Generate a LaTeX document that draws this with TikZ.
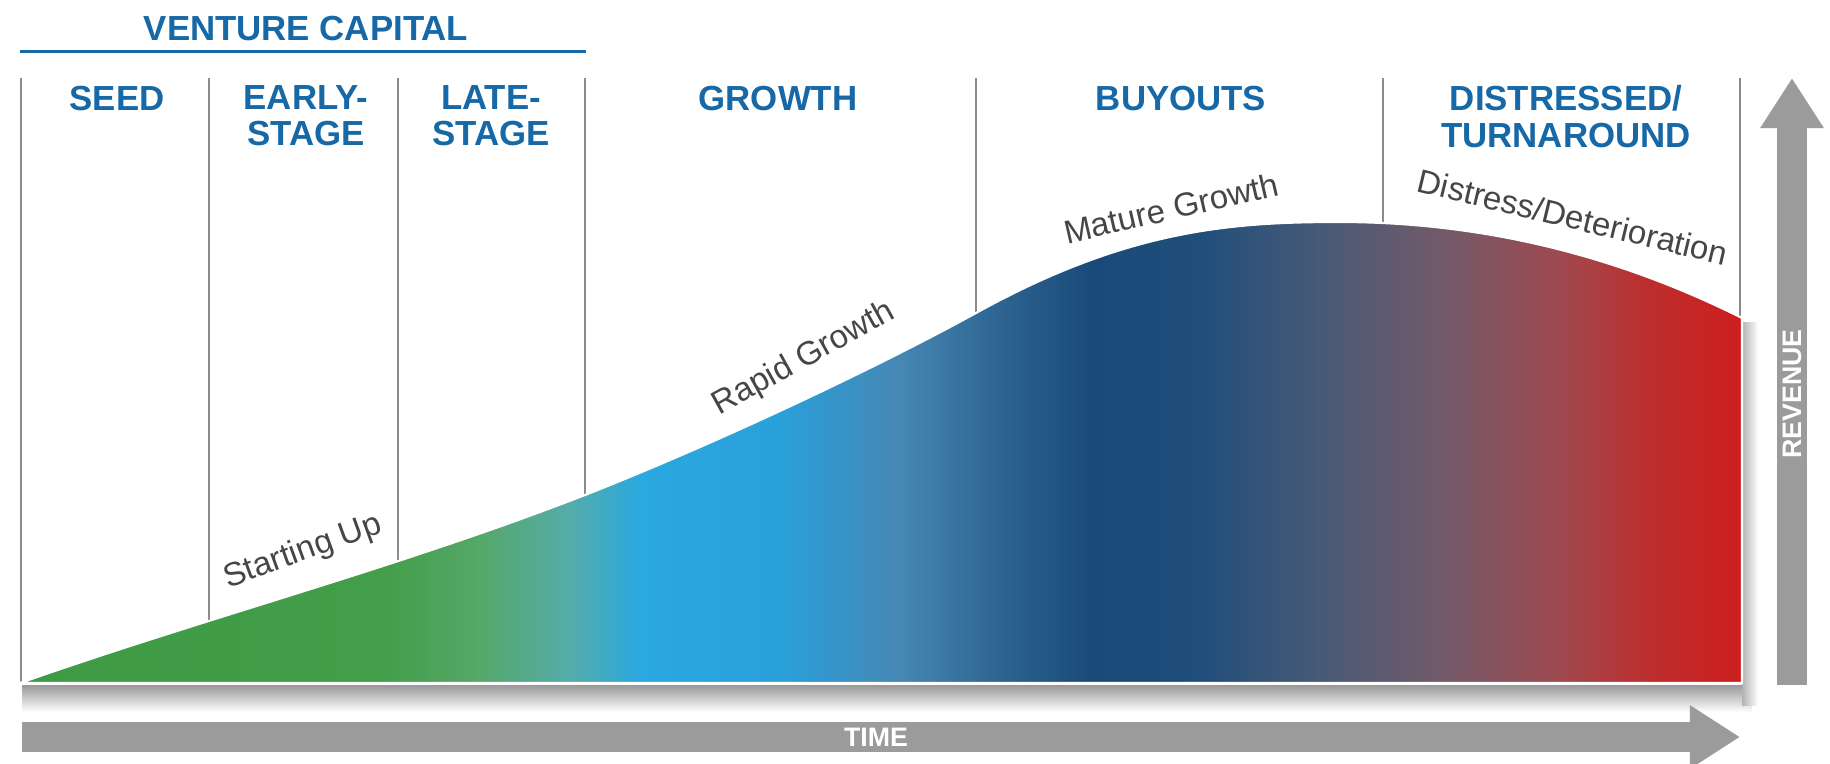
\documentclass[tikz,border=0pt]{standalone}
\usepackage{fontspec}
\setmainfont{Liberation Sans}
\usetikzlibrary{arrows.meta}
\definecolor{hdrblue}{RGB}{22,104,166}
\definecolor{sepgray}{RGB}{140,140,140}
\definecolor{axisgray}{RGB}{155,155,155}
\definecolor{labgray}{RGB}{70,70,70}
\definecolor{cA}{RGB}{62,155,68}
\definecolor{cB}{RGB}{66,158,72}
\definecolor{cC}{RGB}{85,168,105}
\definecolor{cD}{RGB}{85,172,170}
\definecolor{cE}{RGB}{42,168,224}
\definecolor{cF}{RGB}{42,160,218}
\definecolor{cG}{RGB}{70,135,180}
\definecolor{cH}{RGB}{45,100,145}
\definecolor{cI}{RGB}{25,74,122}
\definecolor{cJ}{RGB}{32,78,122}
\definecolor{cK}{RGB}{72,90,118}
\definecolor{cL}{RGB}{115,90,105}
\definecolor{cM}{RGB}{160,72,78}
\definecolor{cN}{RGB}{190,45,45}
\definecolor{cO}{RGB}{205,30,30}
\pgfdeclarehorizontalshading{lifecycle}{100bp}{color(0bp)=(cA); color(25bp)=(cA);
  color(35.45bp)=(cB); color(38.36bp)=(cC); color(40.97bp)=(cD); color(43bp)=(cE);
  color(47.07bp)=(cF); color(50.55bp)=(cG); color(53.46bp)=(cH); color(56.13bp)=(cI);
  color(59.26bp)=(cJ); color(62.75bp)=(cK); color(66.38bp)=(cL); color(69.8bp)=(cM);
  color(72.36bp)=(cN); color(75bp)=(cO); color(100bp)=(cO)}

\begin{document}
\begin{tikzpicture}[x=0.01cm, y=-0.01cm,
    stage/.style={font=\fontsize{9.9}{10.3}\selectfont\bfseries, text=hdrblue, align=center, anchor=north, inner sep=0pt},
    phase/.style={font=\fontsize{9.4}{10}\selectfont, text=labgray, inner sep=0pt},
    axislabel/.style={font=\fontsize{7.6}{8}\selectfont\bfseries, text=white, inner sep=0pt},
    axisarrow/.style={draw=axisgray, line width=0.3cm, -{Triangle[length=0.5cm, width=0.6cm]}},
    sep/.style={draw=sepgray, line width=0.55pt}]
		%%%%% START %%%%%
		\useasboundingbox (0,0) rectangle (1830,763);
		
		\node[stage] (vc) at (306,15) {VENTURE CAPITAL};
		\draw[hdrblue, line width=0.85pt] (20,51) -- (586,51);
		
		\foreach \x in {21,209,398,585,976,1383,1740}
			\draw[sep] (\x,78) -- (\x,683);
		
		\node[stage] (seed) at (117,85) {SEED};
		\node[stage] (early) at (306,85) {EARLY-\\STAGE};
		\node[stage] (late) at (491,85) {LATE-\\STAGE};
		\node[stage] (growth) at (778,85) {GROWTH};
		\node[stage] (buyouts) at (1181,85) {BUYOUTS};
		\node[stage] (distressed) at (1566,85) {DISTRESSED/\\TURNAROUND};
		
		% shadow and curve
		\shade[top color=black!40, bottom color=white] (22,685) rectangle (1752,712);
		\shade[left color=black!30, right color=white] (1742,322) rectangle (1758,705);
		\shade[shading=lifecycle, draw=white, line width=0.6pt] (20,683)
			.. controls (208,617) and (397,568) .. (585,495)
			.. controls (715,444) and (876,368) .. (976,313)
			.. controls (1126,230) and (1230,222) .. (1339,222)
			.. controls (1473,222) and (1608,251) .. (1742,318)
			-- (1742,683) -- cycle;
		
		\node[phase, rotate=20] (startup) at (303,552) {Starting Up};
		\node[phase, rotate=29] (rapid) at (804,359) {Rapid Growth};
		\node[phase, rotate=13] (mature) at (1171,208) {Mature Growth};
		\node[phase, rotate=-13.5] (distress) at (1573,217) {Distress/Deterioration};
		
		% axes
		\coordinate (t0) at (22,737);
		\coordinate (t1) at (1740,737);
		\draw[axisarrow] (t0) -- (t1);
		\node[axislabel] (time) at (876,737) {TIME};
		
		\coordinate (r0) at (1792,685);
		\coordinate (r1) at (1792,78);
		\draw[axisarrow] (r0) -- (r1);
		\node[axislabel, rotate=90] (revenue) at (1792,394) {REVENUE};
		%%%%% END %%%%%
\end{tikzpicture}
\end{document}
